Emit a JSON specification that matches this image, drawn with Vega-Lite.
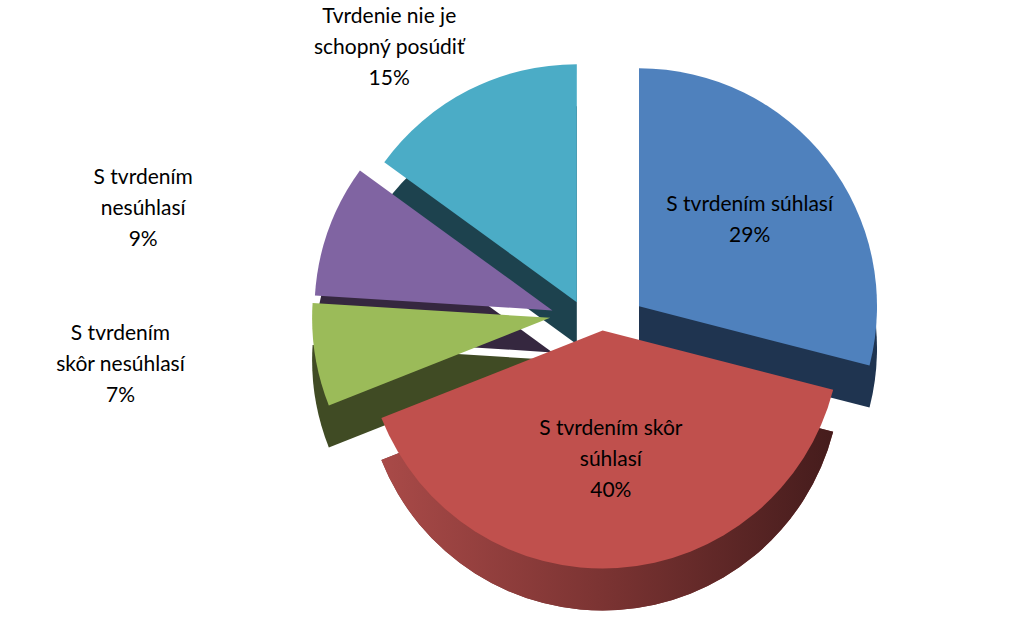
{
  "$schema": "https://vega.github.io/schema/vega-lite/v6.json",
  "width": 1030,
  "height": 618,
  "autosize": {"type": "fit", "contains": "padding"},
  "padding": {"left": 140, "top": 12, "right": 0, "bottom": 0},
  "background": "white",
  "config": {"view": {"stroke": null}},
  "data": {
    "values": [
      {"idx": 1, "category": "S tvrdením súhlasí", "value": 29, "label": "S tvrdením súhlasí\n29%"},
      {"idx": 2, "category": "S tvrdením skôr súhlasí", "value": 40, "label": "S tvrdením skôr\nsúhlasí\n40%"},
      {"idx": 3, "category": "S tvrdením skôr nesúhlasí", "value": 7, "label": "S tvrdením\nskôr nesúhlasí\n7%"},
      {"idx": 4, "category": "S tvrdením nesúhlasí", "value": 9, "label": "S tvrdením\nnesúhlasí\n9%"},
      {"idx": 5, "category": "Tvrdenie nie je schopný posúdiť", "value": 15, "label": "Tvrdenie nie je\nschopný posúdiť\n15%"}
    ]
  },
  "transform": [
    {"stack": "value", "groupby": [], "sort": [{"field": "idx", "order": "ascending"}], "as": ["v0", "v1"]}
  ],
  "layer": [
    {
      "mark": {
        "type": "arc",
        "outerRadius": 238,
        "xOffset": {"expr": "50*sin((scale('theta', datum.v0)+scale('theta', datum.v1))/2)"},
        "yOffset": {"expr": "42-15*cos((scale('theta', datum.v0)+scale('theta', datum.v1))/2)"}
      },
      "encoding": {
        "theta": {"field": "v0", "type": "quantitative", "scale": {"domain": [0, 100]}},
        "theta2": {"field": "v1"},
        "color": {
          "field": "category",
          "type": "nominal",
          "scale": {
            "domain": ["S tvrdením súhlasí", "S tvrdením skôr súhlasí", "S tvrdením skôr nesúhlasí", "S tvrdením nesúhlasí", "Tvrdenie nie je schopný posúdiť"],
            "range": ["#1F3450", "#7A3332", "#404B24", "#35273F", "#1D424E"]
          },
          "legend": null
        }
      }
    },
    {
      "transform": [{"filter": "datum.idx == 2"}],
      "mark": {
        "type": "arc",
        "outerRadius": 238,
        "fill": {
          "gradient": "linear",
          "x1": 0, "y1": 0, "x2": 1, "y2": 0,
          "stops": [
            {"offset": 0, "color": "#A94A48"},
            {"offset": 0.5, "color": "#7A3332"},
            {"offset": 1, "color": "#451C1C"}
          ]
        },
        "xOffset": {"expr": "50*sin((scale('theta', datum.v0)+scale('theta', datum.v1))/2)"},
        "yOffset": {"expr": "42-15*cos((scale('theta', datum.v0)+scale('theta', datum.v1))/2)"}
      },
      "encoding": {
        "theta": {"field": "v0", "type": "quantitative"},
        "theta2": {"field": "v1"}
      }
    },
    {
      "mark": {
        "type": "arc",
        "outerRadius": 238,
        "xOffset": {"expr": "50*sin((scale('theta', datum.v0)+scale('theta', datum.v1))/2)"},
        "yOffset": {"expr": "-15*cos((scale('theta', datum.v0)+scale('theta', datum.v1))/2)"}
      },
      "encoding": {
        "theta": {"field": "v0", "type": "quantitative"},
        "theta2": {"field": "v1"},
        "color": {
          "field": "category",
          "type": "nominal",
          "scale": {
            "domain": ["S tvrdením súhlasí", "S tvrdením skôr súhlasí", "S tvrdením skôr nesúhlasí", "S tvrdením nesúhlasí", "Tvrdenie nie je schopný posúdiť"],
            "range": ["#4F81BD", "#C0504D", "#9BBB59", "#8064A2", "#4BACC6"]
          },
          "legend": null
        }
      }
    },
    {
      "mark": {
        "type": "text",
        "font": "Lato",
        "fontSize": 21,
        "lineHeight": 31,
        "lineBreak": "\n",
        "color": "#000000",
        "align": "center",
        "baseline": "middle",
        "radius": {"expr": "datum.idx == 1 ? 140 : datum.idx == 2 ? 130 : datum.idx == 5 ? 285 : 300"},
        "dy": {"expr": "datum.idx == 1 ? -15 : -31"},
        "xOffset": {"expr": "(50 + (datum.idx <= 2 ? 0 : 0.45 * (datum.idx == 5 ? 285 : 300))) * sin((scale('theta', datum.v0)+scale('theta', datum.v1))/2)"},
        "yOffset": {"expr": "-15*cos((scale('theta', datum.v0)+scale('theta', datum.v1))/2)"}
      },
      "encoding": {
        "theta": {"field": "value", "type": "quantitative", "stack": true},
        "order": {"field": "idx"},
        "text": {"field": "label"}
      }
    }
  ],
  "resolve": {"scale": {"color": "independent"}}
}
